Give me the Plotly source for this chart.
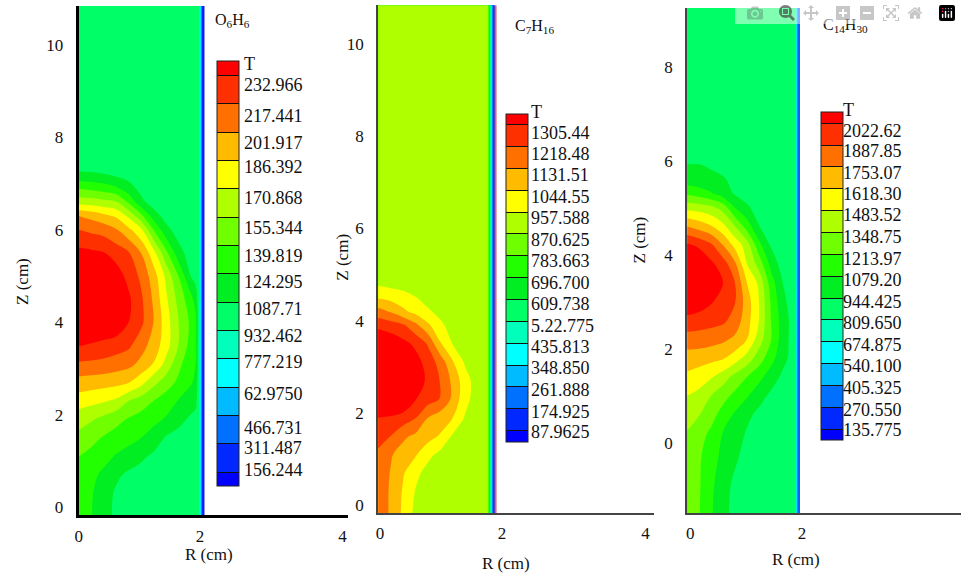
import plotly.graph_objects as go

W, H = 961, 573

BAND_COLORS = ["#0000ff", "#0028ff", "#0070ff", "#00bbff", "#00ffff", "#00ffbb", "#00ff66", "#00ee22",
               "#22ff00", "#70ff00", "#b0ff00", "#ffff00", "#ffbb00", "#ff7000", "#ff3000", "#ff0000"]

# Temperature fields, in units of legend level (0 = lowest labelled level, 14 = highest)
R1 = [0, .2, .4, .6, .8, 1, 1.2, 1.4, 1.6, 1.8, 1.88, 1.94, 1.96, 1.98, 2.024]
Z1 = [-.2, .3, .7, 1.1, 1.5, 1.9, 2.3, 2.7, 3.1, 3.5, 4, 4.5, 5, 5.5, 6, 6.3, 6.6, 6.9, 7.2, 7.5, 10.9]
T1 = [
    [7.4, 7.05, 6.4, 5.8, 5.6, 5.5, 5.5, 5.5, 5.5, 5.5, 5.5, 5, 3, 1, -.5],
    [7.5, 7.1, 6.5, 5.85, 5.6, 5.5, 5.5, 5.5, 5.5, 5.5, 5.5, 5, 3, 1, -.5],
    [7.7, 7.3, 6.75, 6.2, 5.8, 5.6, 5.5, 5.5, 5.5, 5.5, 5.5, 5, 3, 1, -.5],
    [8, 7.7, 7.4, 6.9, 6.6, 6.2, 5.8, 5.6, 5.5, 5.5, 5.5, 5, 3, 1, -.5],
    [8.7, 8.3, 7.9, 7.6, 7.3, 7, 6.6, 5.9, 5.6, 5.5, 5.5, 5, 3, 1, -.5],
    [9.4, 9.1, 8.7, 8.3, 7.9, 7.6, 7.25, 6.9, 6.35, 5.8, 5.6, 5, 3, 1, -.5],
    [10.5, 10.3, 10.1, 9.8, 9, 8.5, 8, 7.5, 6.95, 6.5, 6.3, 5, 3, 1, -.5],
    [11.6, 11.5, 11.4, 11.3, 11.05, 10.35, 9.3, 8.5, 7.8, 7.1, 6.8, 5, 3, 1, -.5],
    [12.85, 12.8, 12.7, 12.5, 12.3, 11.75, 10.95, 9.7, 8.3, 7.3, 7, 5, 3, 1, -.5],
    [14.05, 13.9, 13.7, 13.5, 13.2, 12.4, 11.6, 10.45, 9, 7.6, 7.05, 5, 3, 1, -.5],
    [15, 15, 15, 14.8, 14, 13.25, 12, 10.5, 9.05, 7.8, 7.25, 5, 3, 1, -.5],
    [15, 15, 15, 15, 14.2, 13.2, 11.85, 10.2, 8.7, 7.35, 6.6, 5, 3, 1, -.5],
    [15, 15, 15, 14.5, 13.7, 12.8, 11.5, 9.8, 8, 6, 5.6, 5, 3, 1, -.5],
    [14.3, 14.2, 14.05, 13.6, 13.1, 12, 10.4, 8.3, 6.45, 5.5, 5.5, 5, 3, 1, -.5],
    [13, 12.8, 12.6, 12.1, 11.25, 10.2, 8, 6.35, 5.5, 5.5, 5.5, 5, 3, 1, -.5],
    [12, 11.7, 11.3, 10.85, 9.8, 8.3, 6.55, 5.6, 5.5, 5.5, 5.5, 5, 3, 1, -.5],
    [9.6, 9.5, 9.3, 9.1, 7.85, 6.3, 5.5, 5.5, 5.5, 5.5, 5.5, 5, 3, 1, -.5],
    [7.9, 7.75, 7.5, 7.15, 6.4, 5.7, 5.5, 5.5, 5.5, 5.5, 5.5, 5, 3, 1, -.5],
    [6.15, 6.1, 6.03, 5.8, 5.6, 5.5, 5.5, 5.5, 5.5, 5.5, 5.5, 5, 3, 1, -.5],
    [5.5, 5.5, 5.5, 5.5, 5.5, 5.5, 5.5, 5.5, 5.5, 5.5, 5.5, 5, 3, 1, -.5],
    [5.5, 5.5, 5.5, 5.5, 5.5, 5.5, 5.5, 5.5, 5.5, 5.5, 5.5, 5, 3, 1, -.5],
]

R2 = [0, .2, .4, .6, .8, 1, 1.2, 1.4, 1.6, 1.76, 1.79, 1.82, 1.84, 1.888]
Z2 = [-.2, .3, .7, 1.1, 1.5, 1.9, 2.3, 2.7, 3.1, 3.5, 3.9, 4.2, 4.5, 4.75, 5, 10.9]
T2 = [
    [12.5, 11.9, 10.8, 9.7, 9.5, 9.5, 9.5, 9.5, 9.5, 9.5, 6.5, 3.5, 1.5, -.5],
    [12.5, 11.9, 10.9, 9.95, 9.6, 9.5, 9.5, 9.5, 9.5, 9.5, 6.5, 3.5, 1.5, -.5],
    [12.6, 11.95, 11.1, 10.3, 9.6, 9.5, 9.5, 9.5, 9.5, 9.5, 6.5, 3.5, 1.5, -.5],
    [12.8, 12.1, 11.6, 11.1, 10.3, 9.7, 9.5, 9.5, 9.5, 9.5, 6.5, 3.5, 1.5, -.5],
    [13.4, 13, 12.2, 11.8, 11.4, 10.9, 9.85, 9.5, 9.5, 9.5, 6.5, 3.5, 1.5, -.5],
    [14, 13.9, 13.6, 13.05, 12, 11.5, 11, 9.9, 9.5, 9.5, 6.5, 3.5, 1.5, -.5],
    [15, 15, 15, 14.05, 13.45, 12.95, 11.75, 10.3, 9.5, 9.5, 6.5, 3.5, 1.5, -.5],
    [15, 15, 15, 14.6, 13.8, 12.95, 11.75, 10.4, 9.5, 9.5, 6.5, 3.5, 1.5, -.5],
    [15, 15, 15, 14.4, 13.6, 12.6, 11.1, 9.85, 9.5, 9.5, 6.5, 3.5, 1.5, -.5],
    [15, 14.7, 14.3, 13.8, 12.9, 11.1, 9.95, 9.5, 9.5, 9.5, 6.5, 3.5, 1.5, -.5],
    [13.75, 13.5, 13.15, 12.25, 11.2, 10.2, 9.6, 9.5, 9.5, 9.5, 6.5, 3.5, 1.5, -.5],
    [12.4, 11.9, 11.2, 10.7, 10.15, 9.7, 9.5, 9.5, 9.5, 9.5, 6.5, 3.5, 1.5, -.5],
    [10.9, 10.7, 10.45, 10.05, 9.6, 9.5, 9.5, 9.5, 9.5, 9.5, 6.5, 3.5, 1.5, -.5],
    [10.03, 9.85, 9.7, 9.5, 9.5, 9.5, 9.5, 9.5, 9.5, 9.5, 6.5, 3.5, 1.5, -.5],
    [9.5, 9.5, 9.5, 9.5, 9.5, 9.5, 9.5, 9.5, 9.5, 9.5, 6.5, 3.5, 1.5, -.5],
    [9.5, 9.5, 9.5, 9.5, 9.5, 9.5, 9.5, 9.5, 9.5, 9.5, 6.5, 3.5, 1.5, -.5],
]

R3 = [0, .2, .4, .6, .8, 1, 1.2, 1.4, 1.6, 1.76, 1.81, 1.835, 1.85, 1.883]
Z3 = [-1.6, -.9, -.3, .2, .6, 1, 1.4, 1.8, 2.2, 2.6, 3, 3.4, 3.8, 4.2, 4.6, 5, 5.3, 5.6, 5.9, 6.2, 9.4]
T3 = [
    [8.3, 8.05, 7.1, 6.3, 5.7, 5.5, 5.5, 5.5, 5.5, 5.5, 5.5, 2.5, 1.5, .5],
    [8.4, 8.1, 7.2, 6.45, 5.75, 5.5, 5.5, 5.5, 5.5, 5.5, 5.5, 2.5, 1.5, .5],
    [8.6, 8.15, 7.4, 6.75, 6.2, 5.6, 5.5, 5.5, 5.5, 5.5, 5.5, 2.5, 1.5, .5],
    [8.9, 8.4, 7.8, 6.95, 6.5, 5.9, 5.6, 5.5, 5.5, 5.5, 5.5, 2.5, 1.5, .5],
    [9.6, 9.05, 8.4, 7.6, 6.85, 6.25, 5.75, 5.55, 5.5, 5.5, 5.5, 2.5, 1.5, .5],
    [10, 9.7, 9, 8.35, 7.75, 7.1, 6.4, 5.8, 5.5, 5.5, 5.5, 2.5, 1.5, .5],
    [10.8, 10.5, 10.1, 9.5, 8.65, 8, 7.3, 6.5, 5.8, 5.6, 5.5, 2.5, 1.5, .5],
    [11.5, 11.45, 11.3, 11.1, 10.5, 9.6, 8.5, 7.4, 6.3, 5.7, 5.5, 2.5, 1.5, .5],
    [12.6, 12.55, 12.4, 12.2, 11.8, 11, 9.5, 8.05, 6.45, 5.7, 5.5, 2.5, 1.5, .5],
    [13.6, 13.5, 13.4, 13.2, 12.6, 11.4, 10, 8, 6.5, 5.7, 5.5, 2.5, 1.5, .5],
    [15, 14.6, 14.1, 13.6, 13.05, 11.5, 10, 7.9, 6.25, 5.6, 5.5, 2.5, 1.5, .5],
    [15, 15, 14.6, 14, 13, 11, 9.8, 7.5, 6, 5.5, 5.5, 2.5, 1.5, .5],
    [15, 15, 14.2, 13.5, 12.2, 10, 8.6, 6.7, 5.5, 5.5, 5.5, 2.5, 1.5, .5],
    [14.2, 13.8, 13.2, 12, 10.7, 9.5, 7.35, 5.9, 5.5, 5.5, 5.5, 2.5, 1.5, .5],
    [12, 11.6, 11.1, 10.3, 9, 7.55, 6.05, 5.5, 5.5, 5.5, 5.5, 2.5, 1.5, .5],
    [9.7, 9.55, 9.25, 8.6, 7, 6.2, 5.5, 5.5, 5.5, 5.5, 5.5, 2.5, 1.5, .5],
    [7.85, 7.5, 7.1, 6.5, 5.9, 5.5, 5.5, 5.5, 5.5, 5.5, 5.5, 2.5, 1.5, .5],
    [6.4, 6.35, 6.25, 6.1, 5.75, 5.5, 5.5, 5.5, 5.5, 5.5, 5.5, 2.5, 1.5, .5],
    [6.05, 6.05, 5.9, 5.7, 5.5, 5.5, 5.5, 5.5, 5.5, 5.5, 5.5, 2.5, 1.5, .5],
    [5.5, 5.5, 5.5, 5.5, 5.5, 5.5, 5.5, 5.5, 5.5, 5.5, 5.5, 2.5, 1.5, .5],
    [5.5, 5.5, 5.5, 5.5, 5.5, 5.5, 5.5, 5.5, 5.5, 5.5, 5.5, 2.5, 1.5, .5],
]

LEVELS1 = ["156.244", "311.487", "466.731", "62.9750", "777.219", "932.462", "1087.71", "124.295",
           "139.819", "155.344", "170.868", "186.392", "201.917", "217.441", "232.966"]
LEVELS2 = ["87.9625", "174.925", "261.888", "348.850", "435.813", "5.22.775", "609.738", "696.700",
           "783.663", "870.625", "957.588", "1044.55", "1131.51", "1218.48", "1305.44"]
LEVELS3 = ["135.775", "270.550", "405.325", "540.100", "674.875", "809.650", "944.425", "1079.20",
           "1213.97", "1348.75", "1483.52", "1618.30", "1753.07", "1887.85", "2022.62"]

Y_TICKS1 = [0, 2, 4, 6, 8, 10]
Y_TICKS2 = [0, 2, 4, 6, 8, 10]
Y_TICKS3 = [0, 2, 4, 6, 8]
X_LABELS = ["0", "2", "4"]

panels = [
    dict(name="O<sub>6</sub>H<sub>6</sub>", r=R1, z=Z1, t=T1, levels=LEVELS1, yt=Y_TICKS1,
         box=(75, 345, 6, 517), xr=[0, 4.32], yr=[-.17, 10.84], xt=[0, 1.95, 4.24],
         lw=3, lc="#000000", bar=(214, 236.3, 61.4, 486), lab_x=240,
         lab_y=[472, 450, 429.5, 395, 363.7, 337, 309.6, 282.5, 257, 229, 199, 168, 144, 116, 85.5], t_y=64,
         title=(229, 21), rt=(206, 556), zt=(18, 282)),
    dict(name="C<sub>7</sub>H<sub>16</sub>", r=R2, z=Z2, t=T2, levels=LEVELS2, yt=Y_TICKS2,
         box=(375.7, 653, 5.5, 515), xr=[0, 4.44], yr=[-.17, 10.83], xt=[.03, 1.99, 4.3],
         lw=2, lc="#444444", bar=(504.3, 526.7, 114, 442), lab_x=528,
         lab_y=[434, 413, 391, 369, 348, 327, 305, 284, 262, 241, 219, 198, 176, 155, 133], t_y=112,
         title=(533, 27), rt=(504, 565), zt=(340, 258)),
    dict(name="C<sub>14</sub>H<sub>30</sub>", r=R3, z=Z3, t=T3, levels=LEVELS3, yt=Y_TICKS3,
         box=(686, 961, 8, 515), xr=[0, 4.58], yr=[-1.5, 9.25], xt=[.05, 1.92, 4.57],
         lw=2, lc="#444444", bar=(820.3, 842.3, 112.6, 441), lab_x=842,
         lab_y=[432, 411, 389, 367, 346, 324, 303, 281, 260, 238, 216, 195, 174, 152, 131], t_y=110,
         title=(845, 26), rt=(795, 561), zt=(638, 241)),
]

FONT = "Liberation Serif"
fx = lambda px: px / W
fy = lambda py: 1 - py / H

n = len(BAND_COLORS)
colorscale = [[i / (n - 1), c] for i, c in enumerate(BAND_COLORS)]

fig = go.Figure()
annotations = []
layout = dict(width=W, height=H, margin=dict(l=0, r=0, t=0, b=0), autosize=False,
              paper_bgcolor="white", plot_bgcolor="white", showlegend=False,
              font=dict(family=FONT, size=17, color="#111111"))

for i, p in enumerate(panels):
    suffix = "" if i == 0 else str(i + 1)
    x0, x1, y0, y1 = p["box"]
    bx0, bx1, by0, by1 = p["bar"]
    fig.add_trace(go.Contour(
        x=p["r"], y=p["z"], z=p["t"], xaxis="x" + suffix, yaxis="y" + suffix,
        autocontour=False, contours=dict(start=0, end=14, size=1, coloring="fill"),
        line=dict(width=0), colorscale=colorscale, hoverinfo="skip",
        colorbar=dict(
            x=fx(bx0), xanchor="left", xpad=0, y=fy(by0), yanchor="top", ypad=0,
            thicknessmode="pixels", thickness=bx1 - bx0, lenmode="pixels", len=by1 - by0,
            outlinecolor="#222222", outlinewidth=1, borderwidth=0,
            tickmode="array", tickvals=list(range(15)), ticks="inside",
            ticklen=bx1 - bx0, tickwidth=1, tickcolor="#111111", showticklabels=False),
    ))
    layout["xaxis" + suffix] = dict(
        domain=[fx(x0), fx(x1)], range=p["xr"], anchor="y" + suffix, tickmode="array",
        tickvals=p["xt"], ticktext=X_LABELS, ticks="outside", ticklen=3, tickcolor="rgba(0,0,0,0)",
        showgrid=False, zeroline=False, showline=True, linecolor=p["lc"], linewidth=p["lw"],
        tickfont=dict(family=FONT, size=17), layer="above traces")
    layout["yaxis" + suffix] = dict(
        domain=[fy(y1), fy(y0)], range=p["yr"], anchor="x" + suffix, tickmode="array",
        tickvals=p["yt"], ticktext=[str(v) for v in p["yt"]], ticks="outside", ticklen=9,
        tickcolor="rgba(0,0,0,0)", showgrid=False, zeroline=False, showline=True,
        linecolor=p["lc"], linewidth=p["lw"], tickfont=dict(family=FONT, size=17), layer="above traces")

    def note(text, px, py, size=17, angle=0, xanchor="center"):
        annotations.append(dict(text=text, x=fx(px), y=fy(py), xref="paper", yref="paper", showarrow=False,
                                font=dict(family=FONT, size=size, color="#111111"), textangle=angle,
                                xanchor=xanchor, yanchor="middle", borderpad=0, align="left"))

    note(p["name"], *p["title"], size=16)
    note("R (cm)", *p["rt"])
    note("Z (cm)", *p["zt"], angle=-90)
    note("T", p["lab_x"], p["t_y"], size=18, xanchor="left")
    for label, ly in zip(p["levels"], p["lab_y"]):
        note(label, p["lab_x"], ly, size=18, xanchor="left")

# thin red outer edge of the C7H16 wall
fig.add_trace(go.Scatter(x=[R2[-1], R2[-1]], y=[Z2[0], Z2[-1]], xaxis="x2", yaxis="y2", mode="lines",
                         line=dict(color="#d8607a", width=2), hoverinfo="skip"))

layout["annotations"] = annotations
fig.update_layout(**layout)
fig.write_html("out.html", post_script="document.body.style.margin='0';document.body.style.overflow='hidden';")
